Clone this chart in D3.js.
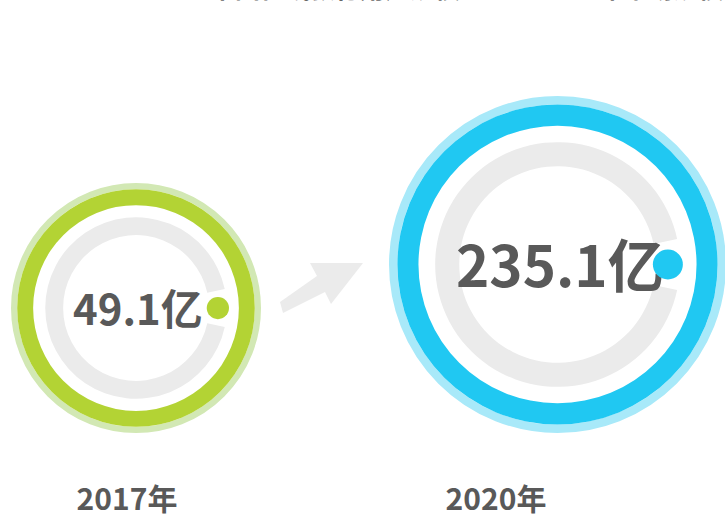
<!DOCTYPE html>
<html>
<head>
<meta charset="utf-8">
<script src="https://cdn.jsdelivr.net/npm/d3@7"></script>
<style>
  body { margin: 0; background: #fff; }
  text { font-family: "Noto Sans CJK SC", "Noto Sans", sans-serif; font-weight: bold; }
</style>
</head>
<body>
<div id="container"></div>
<script>
/* CONSTANTS AND GLOBALS */
const width = 725;
const height = 515;

const years = ["2017年", "2020年"];
const values = [49.1, 235.1];
const unit = "亿";
const ringColors = ["#b3d334", "#20c8f2"];
const haloColors = ["#d2e8b4", "#a8e9f9"];
const title = "中国在线教育用户规模 2017-2020 年市场规模预测分析";

const data = years.map((y, i) => ({ year: y, value: values[i], color: ringColors[i], halo: haloColors[i] }));

/* SCALES */
// center x of each circle
const xScale = d3.scalePoint()
  .domain(years)
  .range([136, 557.5]);

// label x
const labelScale = d3.scalePoint()
  .domain(years)
  .range([127, 496]);

// outer radius by value
const rScale = d3.scaleLinear()
  .domain([49.1, 235.1])
  .range([125, 168.5]);

const baseY = 433; // circles sit on the same bottom line

const svg = d3.select("#container")
  .append("svg")
  .attr("width", width)
  .attr("height", height);

// cut-off title at top
svg.append("text")
  .attr("x", 210)
  .attr("y", -2)
  .style("font-size", "25px")
  .style("fill", "#666")
  .text(title);

const arc = d3.arc();
const gap = 0.21; // radians, opening on the right side

const g = svg.selectAll(".bubble")
  .data(data)
  .join("g")
  .attr("class", "bubble")
  .attr("transform", d => `translate(${xScale(d.year)},${baseY - rScale(d.value)})`);

// halo ring
g.append("circle")
  .attr("r", d => rScale(d.value) * 0.975)
  .attr("fill", "none")
  .attr("stroke", d => d.halo)
  .attr("stroke-width", d => rScale(d.value) * 0.05);

// main ring
g.append("path")
  .attr("d", d => {
    const R = rScale(d.value);
    return arc({ innerRadius: R * 0.823, outerRadius: R * 0.95, startAngle: 0, endAngle: 2 * Math.PI });
  })
  .attr("fill", d => d.color);

// gray open ring
g.append("path")
  .attr("d", d => {
    const R = rScale(d.value);
    return arc({ innerRadius: R * 0.583, outerRadius: R * 0.726, startAngle: Math.PI / 2 + gap, endAngle: Math.PI / 2 + 2 * Math.PI - gap });
  })
  .attr("fill", "#ebebeb");

// value text
g.append("text")
  .attr("x", d => rScale(d.value) * 0.015)
  .attr("dy", "0.4em")
  .attr("text-anchor", "middle")
  .style("font-size", d => (rScale(d.value) * 0.335) + "px")
  .style("fill", "#595959")
  .text(d => d.value + unit);

// dot in the gap
g.append("circle")
  .attr("cx", d => rScale(d.value) * 0.655)
  .attr("cy", 0)
  .attr("r", d => rScale(d.value) * 0.089)
  .attr("fill", d => d.color);

// year labels
svg.selectAll(".year")
  .data(data)
  .join("text")
  .attr("class", "year")
  .attr("x", d => labelScale(d.year))
  .attr("y", 510)
  .attr("text-anchor", "middle")
  .style("font-size", "30px")
  .style("fill", "#595959")
  .text(d => d.year);

// arrow between the two
const arrow = [[0, 0], [3, 11], [45, -10], [51, 2], [83, -39], [30, -39], [37, -26]];
svg.append("path")
  .attr("d", d3.line()(arrow.map(p => [280 + p[0], 302 + p[1]])) + "Z")
  .attr("fill", "#ebebeb");
</script>
</body>
</html>
